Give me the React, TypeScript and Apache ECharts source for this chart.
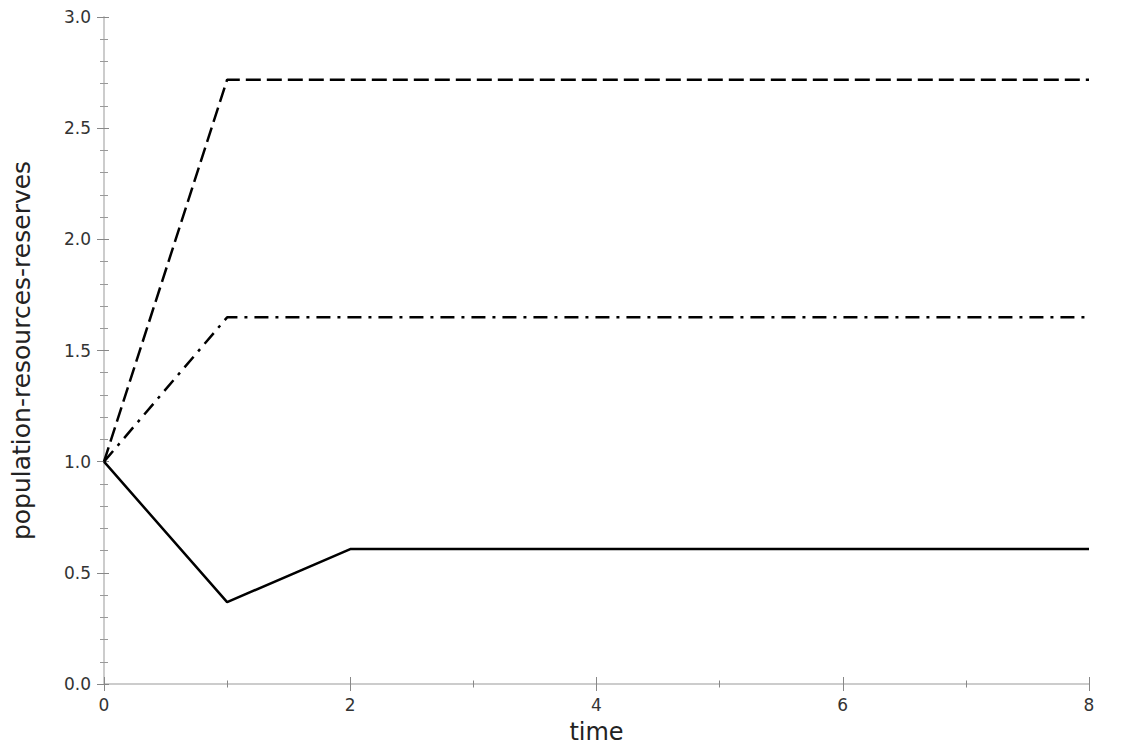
import React, { useEffect, useRef } from "react";
import * as echarts from "echarts";

const times = [0, 1, 2, 3, 4, 5, 6, 7, 8];
const population = [1, 0.368, 0.607, 0.607, 0.607, 0.607, 0.607, 0.607, 0.607];
const resources = [1, 2.718, 2.718, 2.718, 2.718, 2.718, 2.718, 2.718, 2.718];
const reserves = [1, 1.649, 1.649, 1.649, 1.649, 1.649, 1.649, 1.649, 1.649];
const xLabel = "time";
const yLabel = "population-resources-reserves";

const FONT = "DejaVu Sans";

export default function App() {
  const ref = useRef<HTMLDivElement>(null);
  useEffect(() => {
    if (!ref.current) return;
    const chart = echarts.init(ref.current, undefined, { renderer: "svg" });
    const pts = (ys: number[]) => times.map((t, i) => [t, ys[i]]);
    const xBase = {
      type: "value",
      min: 0,
      max: 8,
      interval: 2,
      position: "bottom",
      splitLine: { show: false },
      minorSplitLine: { show: false },
    };
    const yBase = {
      type: "value",
      min: 0,
      max: 3,
      interval: 0.5,
      position: "left",
      splitLine: { show: false },
      minorSplitLine: { show: false },
    };
    chart.setOption({
      animation: false,
      backgroundColor: "#ffffff",
      grid: { left: 104, right: 36, top: 17, bottom: 66, outerBoundsMode: "none", containLabel: false },
      xAxis: [
        {
          ...xBase,
          name: xLabel,
          nameLocation: "middle",
          nameGap: 36,
          nameTextStyle: { fontFamily: FONT, fontSize: 24, color: "#222" },
          axisLine: { show: true, lineStyle: { color: "#cccccc", width: 2 } },
          axisTick: { show: true, length: 7, lineStyle: { color: "#888", width: 1 } },
          minorTick: { show: true, splitNumber: 2, length: 3.5, lineStyle: { color: "#888", width: 1 } },
          axisLabel: { fontFamily: FONT, fontSize: 17, color: "#333", margin: 12 },
        },
        {
          ...xBase,
          axisLine: { show: false },
          axisTick: { show: true, inside: true, length: 7, lineStyle: { color: "#888", width: 1 } },
          minorTick: { show: true, splitNumber: 2, length: 3.5, lineStyle: { color: "#888", width: 1 } },
          axisLabel: { show: false },
        },
      ],
      yAxis: [
        {
          ...yBase,
          name: yLabel,
          nameLocation: "middle",
          nameGap: 70,
          nameTextStyle: { fontFamily: FONT, fontSize: 25, color: "#222" },
          axisLine: { show: true, lineStyle: { color: "#cccccc", width: 2 } },
          axisTick: { show: true, length: 7, lineStyle: { color: "#888", width: 1 } },
          minorTick: { show: true, splitNumber: 5, length: 4, lineStyle: { color: "#999", width: 1 } },
          axisLabel: {
            fontFamily: FONT,
            fontSize: 17,
            color: "#333",
            margin: 13,
            formatter: (v: number) => v.toFixed(1),
          },
        },
        {
          ...yBase,
          axisLine: { show: false },
          axisTick: { show: true, inside: true, length: 5, lineStyle: { color: "#888", width: 1 } },
          minorTick: { show: true, splitNumber: 5, length: 4, lineStyle: { color: "#999", width: 1 } },
          axisLabel: { show: false },
        },
      ],
      series: [
        {
          type: "line",
          data: pts(population),
          showSymbol: false,
          lineStyle: { color: "#000", width: 2.5, type: "solid" },
        },
        {
          type: "line",
          data: pts(resources),
          showSymbol: false,
          lineStyle: { color: "#000", width: 2.5, type: [15, 6] },
        },
        {
          type: "line",
          data: pts(reserves),
          showSymbol: false,
          lineStyle: { color: "#000", width: 2.5, type: [14, 7, 3, 7] },
        },
      ],
    });
    return () => chart.dispose();
  }, []);
  return <div ref={ref} style={{ width: 1125, height: 750, margin: -8 }} />;
}
